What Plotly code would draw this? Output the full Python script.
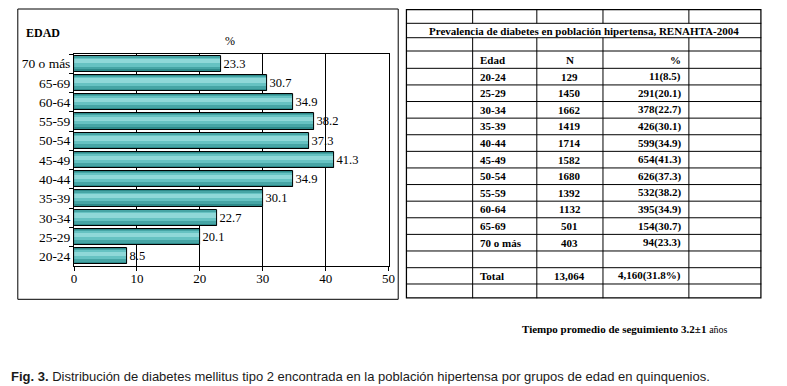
import plotly.graph_objects as go

# ---------------- data ----------------
edad = ["20-24", "25-29", "30-34", "35-39", "40-44", "45-49",
        "50-54", "55-59", "60-64", "65-69", "70 o más"]
n_vals = [129, 1450, 1662, 1419, 1714, 1582, 1680, 1392, 1132, 501, 403]
casos = [11, 291, 378, 426, 599, 654, 626, 532, 395, 154, 94]
pct = [8.5, 20.1, 22.7, 30.1, 34.9, 41.3, 37.3, 38.2, 34.9, 30.7, 23.3]
total_n = "13,064"
total_casos = "4,160(31.8%)"
x_ticks = [0, 10, 20, 30, 40, 50]

table_title = "Prevalencia de diabetes en población hipertensa, RENAHTA-2004"
table_header = ["Edad", "N", "%"]
note_text = "Tiempo promedio de seguimiento 3.2±1"
note_unit = "años"
caption_bold = "Fig. 3."
caption_text = ("Distribución de diabetes mellitus tipo 2 encontrada en la población "
                "hipertensa por grupos de edad en quinquenios.")

# ---------------- layout helpers ----------------
W, H = 787, 386
def fx(x): return x / W
def fy(y): return 1 - y / H

SERIF = "Liberation Serif"
SANS = "Liberation Sans"

fig = go.Figure()

# bar chart: shaded (cylinder-like) bars built from overlaid layers
layers = [(0.84, 0.0, "#2e8a8a"), (0.68, 0.04, "#46a5a5"),
          (0.46, 0.08, "#66c2c2"), (0.22, 0.12, "#8fd8d8")]
for w, c, col in layers:
    fig.add_trace(go.Bar(
        y=edad, x=pct, orientation="h", width=w, offset=c - w / 2,
        marker=dict(color=col, line=dict(width=0)),
        hoverinfo="skip", showlegend=False, xaxis="x", yaxis="y"))
fig.add_trace(go.Bar(
    y=edad, x=pct, orientation="h", width=0.84, offset=-0.42,
    marker=dict(color="rgba(0,0,0,0)", line=dict(color="black", width=1)),
    text=[f"{v:.1f}" for v in pct], textposition="outside",
    textfont=dict(family=SERIF, size=12.5, color="black"),
    cliponaxis=False, showlegend=False, xaxis="x", yaxis="y"))

# ---------------- table (drawn on its own hidden axes) ----------------
col_widths = [67.7, 65.0, 67.0, 87.0, 73.6]
row_heights = [14.3, 14.4, 13.3, 17.3] + [16.6] * 11 + [16.7, 16.3, 14.5]
col_edges = [0]
for w in col_widths:
    col_edges.append(col_edges[-1] + w)
row_edges = [0]
for h in row_heights:
    row_edges.append(row_edges[-1] + h)
TW, TH = col_edges[-1], row_edges[-1]

fig.add_trace(go.Scatter(x=[0, TW], y=[0, TH], mode="markers",
                         marker=dict(opacity=0), hoverinfo="skip",
                         showlegend=False, xaxis="x2", yaxis="y2"))

shapes = []
for y in row_edges[1:-1]:
    shapes.append(dict(type="line", xref="x2", yref="y2", x0=0, x1=TW, y0=y, y1=y,
                       line=dict(color="black", width=1)))
for ri in range(len(row_heights)):
    if ri == 1:
        continue
    for x in col_edges[1:-1]:
        shapes.append(dict(type="line", xref="x2", yref="y2", x0=x, x1=x,
                           y0=row_edges[ri], y1=row_edges[ri + 1],
                           line=dict(color="black", width=1)))
shapes.append(dict(type="rect", xref="x2", yref="y2", x0=0, x1=TW, y0=0, y1=TH,
                   line=dict(color="black", width=2.5)))
shapes.append(dict(type="rect", xref="paper", yref="paper",
                   x0=fx(15), x1=fx(400.3), y0=fy(299.3), y1=fy(9),
                   line=dict(color="black", width=1)))

annotations = []
def cell_text(txt, ri, ci, align):
    yc = (row_edges[ri] + row_edges[ri + 1]) / 2
    if align == "left":
        x = col_edges[ci] + 5
    elif align == "right":
        x = col_edges[ci + 1] - 6
    else:
        x = (col_edges[ci] + col_edges[ci + 1]) / 2
    annotations.append(dict(text=f"<b>{txt}</b>", xref="x2", yref="y2", x=x, y=yc,
                            xanchor=align, yanchor="middle", showarrow=False,
                            font=dict(family=SERIF, size=11, color="black")))

annotations.append(dict(text=f"<b>{table_title}</b>", xref="x2", yref="y2",
                        x=TW / 2, y=(row_edges[1] + row_edges[2]) / 2,
                        xanchor="center", yanchor="middle", showarrow=False,
                        font=dict(family=SERIF, size=11, color="black")))
cell_text(table_header[0], 3, 1, "left")
cell_text(table_header[1], 3, 2, "center")
cell_text(table_header[2], 3, 3, "right")
for i in range(len(edad)):
    r = 4 + i
    cell_text(edad[i], r, 1, "left")
    cell_text(str(n_vals[i]), r, 2, "center")
    cell_text(f"{casos[i]}({pct[i]:.1f})", r, 3, "right")
cell_text("Total", 16, 1, "left")
cell_text(total_n, 16, 2, "center")
cell_text(total_casos, 16, 3, "right")

annotations.append(dict(text="<b>EDAD</b>", xref="paper", yref="paper",
                        x=fx(21), y=fy(33), xanchor="left", yanchor="middle",
                        showarrow=False, font=dict(family=SERIF, size=12, color="black")))
annotations.append(dict(text="%", xref="paper", yref="paper",
                        x=fx(230), y=fy(41), xanchor="center", yanchor="middle",
                        showarrow=False, font=dict(family=SERIF, size=12, color="black")))
annotations.append(dict(text=f"<b>{note_text}</b> <span style='font-size:10px'>{note_unit}</span>",
                        xref="paper", yref="paper",
                        x=fx(524), y=fy(329), xanchor="left", yanchor="middle",
                        showarrow=False, font=dict(family=SERIF, size=11, color="black")))
annotations.append(dict(text=f"<b>{caption_bold}</b> {caption_text}",
                        xref="paper", yref="paper",
                        x=fx(6), y=fy(376), xanchor="left", yanchor="middle",
                        showarrow=False,
                        font=dict(family=SANS, size=13, color="#1a1a1a")))

fig.update_layout(
    width=W, height=H, margin=dict(l=0, r=0, t=0, b=0),
    paper_bgcolor="white", plot_bgcolor="white",
    barmode="overlay", bargap=0,
    shapes=shapes, annotations=annotations,
    xaxis=dict(domain=[fx(72), fx(390.5)], range=[0, 50], tickvals=x_ticks,
               showgrid=True, gridcolor="black", gridwidth=1, zeroline=False,
               showline=True, mirror=True, linecolor="black", linewidth=1,
               ticks="outside", ticklen=4, tickcolor="black", ticklabelstandoff=-4,
               tickfont=dict(family=SERIF, size=13, color="black"), anchor="y"),
    yaxis=dict(domain=[fy(266), fy(54)], categoryorder="array", categoryarray=edad,
               range=[-0.5, len(edad) - 0.5],
               showgrid=False, zeroline=False, showline=True, mirror=True,
               linecolor="black", linewidth=1, ticks="outside", ticklen=4,
               tickson="boundaries", tickcolor="black",
               tickfont=dict(family=SERIF, size=13.5, color="black"), anchor="x"),
    xaxis2=dict(domain=[fx(408), fx(768.3)], range=[0, TW], visible=False,
                anchor="y2", fixedrange=True),
    yaxis2=dict(domain=[fy(298.5), fy(9)], range=[TH, 0], visible=False,
                anchor="x2", fixedrange=True),
)

fig.write_html("out.html", config={"displayModeBar": False},
               post_script="document.body.style.margin='0';")
